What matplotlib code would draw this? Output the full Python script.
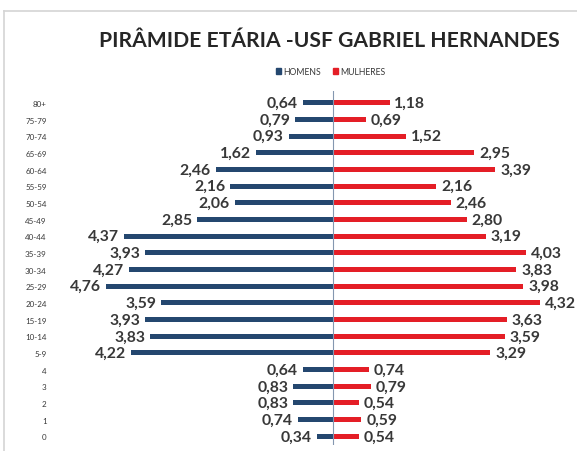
import matplotlib.pyplot as plt
from matplotlib.lines import Line2D
from matplotlib.patches import Patch

# age groups, top to bottom
faixas = ['80+', '75-79', '70-74', '65-69', '60-64', '55-59', '50-54', '45-49',
          '40-44', '35-39', '30-34', '25-29', '20-24', '15-19', '10-14', '5-9',
          '4', '3', '2', '1', '0']
homens = [0.64, 0.79, 0.93, 1.62, 2.46, 2.16, 2.06, 2.85, 4.37, 3.93, 4.27,
          4.76, 3.59, 3.93, 3.83, 4.22, 0.64, 0.83, 0.83, 0.74, 0.34]
mulheres = [1.18, 0.69, 1.52, 2.95, 3.39, 2.16, 2.46, 2.80, 3.19, 4.03, 3.83,
            3.98, 4.32, 3.63, 3.59, 3.29, 0.74, 0.79, 0.54, 0.59, 0.54]

azul = '#24476f'
vermelho = '#e41e26'
texto = '#383838'

plt.rcParams['font.family'] = ['Lato', 'DejaVu Sans']

fig = plt.figure(figsize=(5.77, 4.52), dpi=100)
ax = fig.add_axes([0.105, 0.014, 0.895, 0.782])

y = list(range(len(faixas)))
ax.barh(y, [-h for h in homens], height=0.3, color=azul)
ax.barh(y, mulheres, height=0.3, color=vermelho)

for i, (h, m) in enumerate(zip(homens, mulheres)):
    ax.text(-h - 0.1, i, f'{h:.2f}'.replace('.', ','), ha='right', va='center',
            fontsize=11.3, fontweight='bold', color=texto)
    ax.text(m + 0.1, i, f'{m:.2f}'.replace('.', ','), ha='left', va='center',
            fontsize=11.3, fontweight='bold', color=texto)

ax.axvline(0, color='#8497b0', lw=0.8)
ax.set_xlim(-5.7, 5.1)
ax.set_ylim(len(faixas) - 0.5, -0.7)
ax.set_yticks(y)
ax.set_yticklabels(faixas, fontsize=5.8, color=texto)
ax.tick_params(axis='y', length=0, pad=10)
ax.set_xticks([])
for s in ax.spines.values():
    s.set_visible(False)

fig.text(0.571, 0.91, 'PIRÂMIDE ETÁRIA -USF GABRIEL HERNANDES', ha='center',
         va='center', fontsize=15.2, fontweight='bold', color='#262626')

handles = [Patch(color=azul), Patch(color=vermelho)]
fig.legend(handles, ['HOMENS', 'MULHERES'], loc='center', bbox_to_anchor=(0.573, 0.84),
           ncol=2, frameon=False, fontsize=6.2, handlelength=0.6, handleheight=0.6,
           handletextpad=0.2, columnspacing=1.4, labelcolor=texto)

# screenshot frame
fig.add_artist(Line2D([0.007, 1], [0.973, 0.973], color='#d4d4d4', lw=1.2))
fig.add_artist(Line2D([0.007, 0.007], [0, 0.973], color='#d4d4d4', lw=1.2))

fig.savefig('out.png', dpi=100)
